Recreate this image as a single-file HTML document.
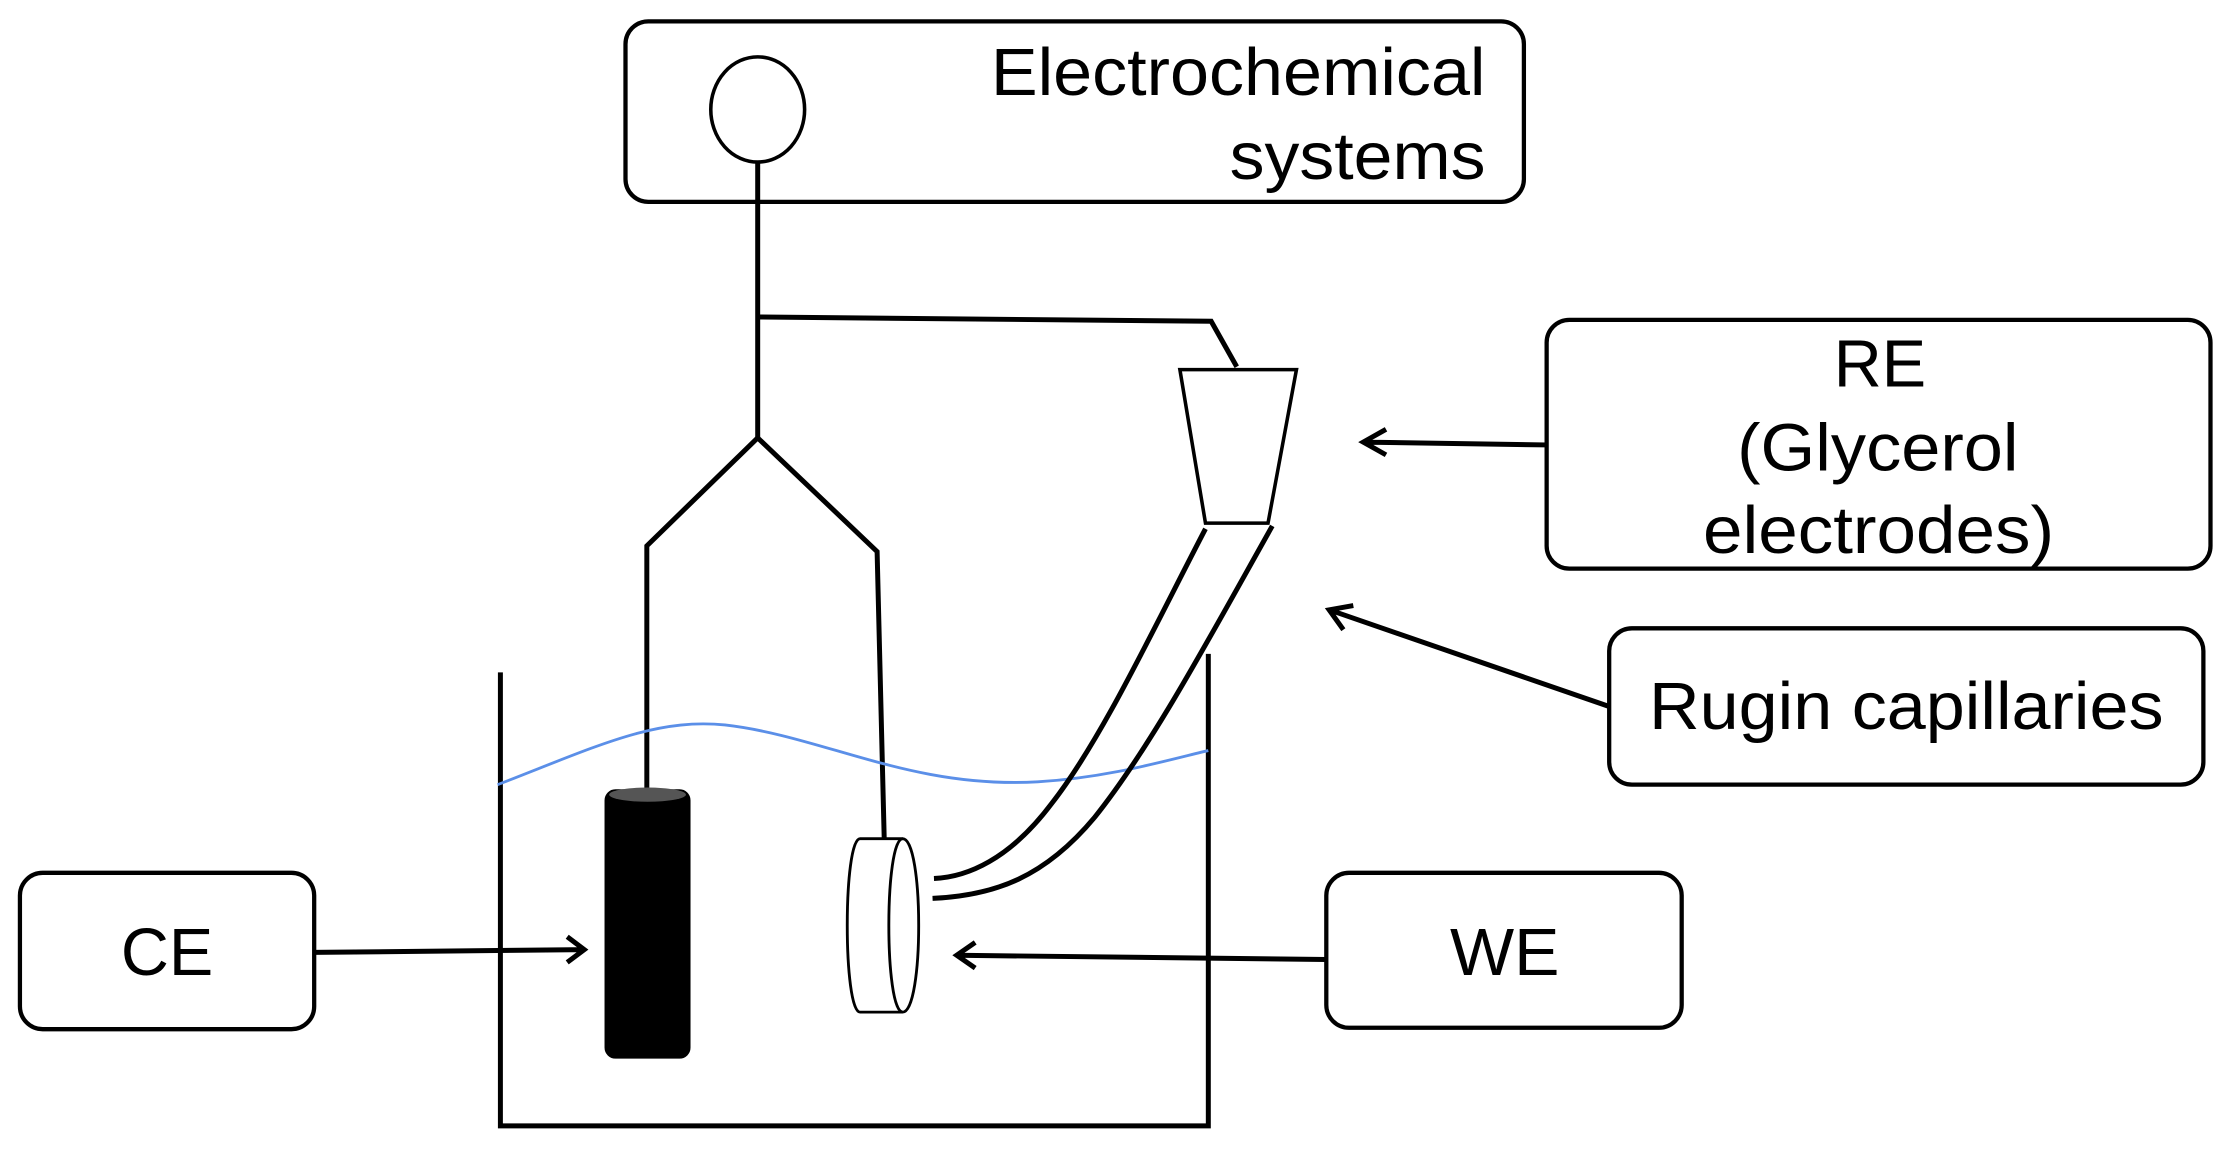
<!DOCTYPE html>
<html><head><meta charset="utf-8"><style>html,body{margin:0;padding:0;background:#fff}svg{display:block}</style></head>
<body>
<svg width="2229" height="1152" viewBox="0 0 1568 810.4" xmlns="http://www.w3.org/2000/svg" font-family="Liberation Sans, Arial, sans-serif" font-size="47" fill="none" stroke="#000" stroke-width="3.5">
<rect x="440" y="15" width="632" height="127" rx="16" stroke-width="3"/>
<ellipse cx="533" cy="77" rx="33" ry="37" stroke-width="2.5"/>
<g fill="#000" stroke="none">
<text x="697" y="67" textLength="348" lengthAdjust="spacingAndGlyphs">Electrochemical</text>
<text x="865" y="126" textLength="180" lengthAdjust="spacingAndGlyphs">systems</text>
<text x="1290" y="272" textLength="65" lengthAdjust="spacingAndGlyphs">RE</text>
<text x="1222" y="331" textLength="198" lengthAdjust="spacingAndGlyphs">(Glycerol</text>
<text x="1198" y="389" textLength="247" lengthAdjust="spacingAndGlyphs">electrodes)</text>
<text x="1160" y="513" textLength="362" lengthAdjust="spacingAndGlyphs">Rugin capillaries</text>
<text x="85" y="686" textLength="65" lengthAdjust="spacingAndGlyphs">CE</text>
<text x="1020" y="686" textLength="77" lengthAdjust="spacingAndGlyphs">WE</text>
</g>
<path d="M533 114 V308 M533 223 L852 226 L870 258"/>
<path d="M455 555 V384 L533 308 L617 388 L622 590"/>
<path d="M830 260 H912 L892 368 H848 Z" stroke-width="2.5"/>
<path d="M352 473 V792 H850 V460"/>
<path d="M350 552 C420 525 460 505 510 510 C580 518 640 555 730 550 C780 547 820 535 850 528" stroke="#5b8fe8" stroke-width="2"/>
<path d="M848 372 C810 445 775 520 740 565 C710 605 680 617 657 618"/>
<path d="M895 370 C850 450 810 525 770 575 C735 617 700 630 656 632"/>
<rect x="427" y="557" width="57" height="186" rx="6" fill="#000" stroke="#000"/>
<ellipse cx="455.5" cy="559" rx="27" ry="5" fill="#555" stroke="none"/>
<path d="M605 590 H635 C650 590 650 712 635 712 H605 C593 712 593 590 605 590 Z" fill="#fff" stroke-width="2"/>
<path d="M635 590 C622 590 622 712 635 712" stroke-width="2"/>
<rect x="1088" y="225" width="467" height="175" rx="16" stroke-width="3"/>
<rect x="1132" y="442" width="418" height="110" rx="16" stroke-width="3"/>
<rect x="14" y="614" width="207" height="110" rx="16" stroke-width="3"/>
<rect x="933" y="614" width="250" height="109" rx="16" stroke-width="3"/>
<path d="M1088 313 L959 311 M975 302 L959 311 L975 320"/>
<path d="M1132 497 L935 429 M945 443 L935 429 L952 426"/>
<path d="M221 670 L411 668 M399 659 L411 668 L399 677"/>
<path d="M933 675 L673 672 M686 663 L673 672 L686 681"/>
</svg>
</body></html>
